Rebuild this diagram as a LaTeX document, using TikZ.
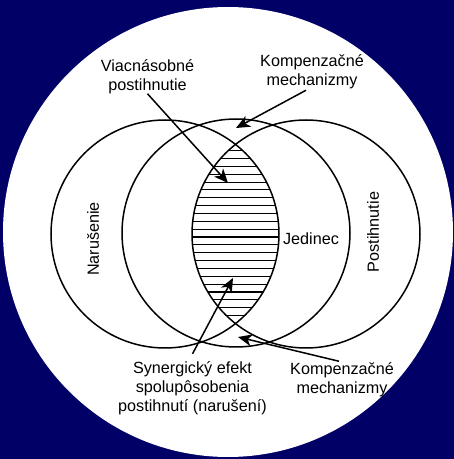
\documentclass[tikz,border=0pt]{standalone}
\usepackage{fontspec}
\setmainfont{Liberation Sans}
\usetikzlibrary{arrows.meta}
\definecolor{pozadie}{RGB}{0,0,102}
\tikzset{
  kruh/.style={line width=1.5pt},
  popis/.style={align=center,font=\fontsize{16.2}{18.8}\selectfont,inner sep=1pt},
  sipka/.style={line width=1.5pt,-{Stealth[length=14pt,width=12pt,inset=4pt]}},
  srafa/.style={line width=1.1pt},
}
\begin{document}
\begin{tikzpicture}[x=1pt,y=1pt]
  % pozadie
  \fill[pozadie] (0,0) rectangle (454,459);
  \useasboundingbox (0,0) rectangle (454,459);
  \fill[white] (228,227) circle (225pt);
  % stredy kruhov
  \coordinate (L) at (165,225);
  \coordinate (S) at (236,226);
  \coordinate (P) at (306,225);
  % srafovanie prieniku
  \begin{scope}
    \clip (L) circle (114pt);
    \clip (P) circle (114pt);
    \foreach \k in {0,...,21}
      \draw[srafa] (150,308.3-7.85*\k) -- (320,308.3-7.85*\k);
  \end{scope}
  \draw[kruh] (L) circle (114pt);
  \draw[kruh] (S) circle (114pt);
  \draw[kruh] (P) circle (114pt);
  % popisy
  \node[popis,rotate=90] (narusenie) at (93,220) {Narušenie};
  \node[popis,rotate=90] (postihnutie) at (373,227) {Postihnutie};
  \node[popis] (jedinec) at (311,220) {Jedinec};
  \node[popis] (viac) at (147.5,382.5) {Viacnásobné\\postihnutie};
  \node[popis] (komp1) at (312,387) {Kompenzačné\\mechanizmy};
  \node[popis] (syn) at (192.5,70.5) {Synergický efekt\\spolupôsobenia\\postihnutí (narušení)};
  \node[popis] (komp2) at (342,79.5) {Kompenzačné\\mechanizmy};
  % sipky
  \coordinate (h1) at (228,276);
  \coordinate (h2) at (236,331);
  \coordinate (h3) at (233,181);
  \coordinate (h4) at (238,122);
  \draw[sipka] ([yshift=1pt]viac.south) -- (h1);
  \draw[sipka] ([xshift=-6pt]komp1.south) -- (h2);
  \draw[sipka] ([yshift=7pt]syn.north) -- (h3);
  \draw[sipka] ([xshift=-3pt]komp2.north) -- (h4);
\end{tikzpicture}
\end{document}
